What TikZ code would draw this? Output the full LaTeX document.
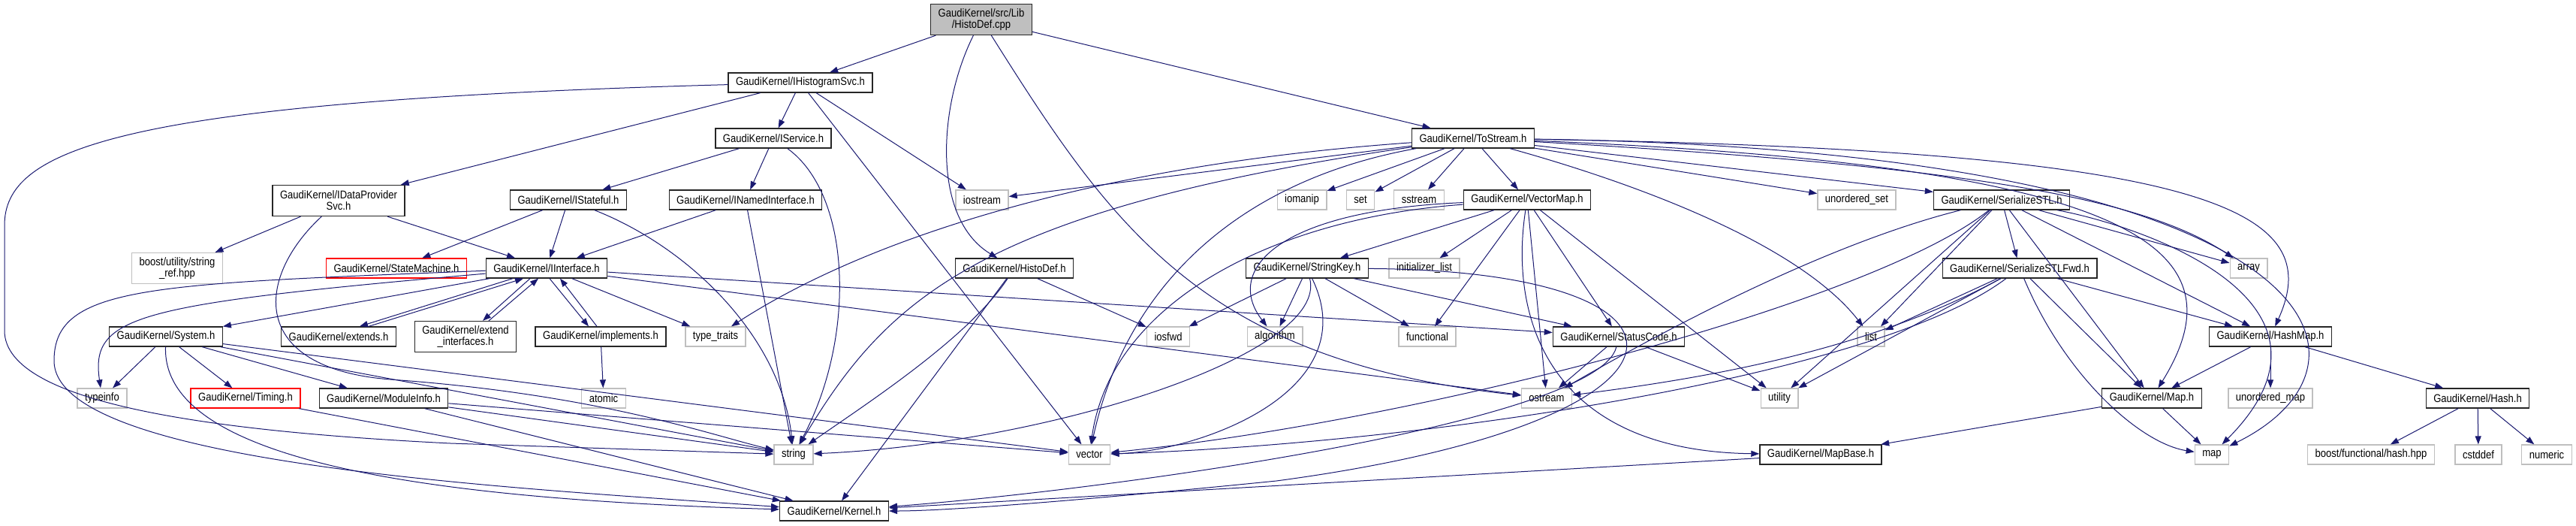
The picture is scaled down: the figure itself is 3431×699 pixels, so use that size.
\documentclass[tikz,border=0pt]{standalone}
\usepackage{fontspec}
\newfontfamily\dgfont{Liberation Sans}[FakeStretch=0.87]
\usepackage{tikz}
\usetikzlibrary{arrows.meta}
\definecolor{dgedge}{RGB}{25,25,112}
\definecolor{dgsys}{RGB}{191,191,191}

\tikzset{
  incl/.style={draw=black!85, fill=white, line width=1.3pt, minimum height=26pt, inner xsep=10pt, inner ysep=1pt, align=center, font={\dgfont\fontsize{15pt}{15pt}\selectfont}},
  sysinc/.style={incl, draw=dgsys},
  trunc/.style={incl, draw=red},
  twoline/.style={minimum height=41pt},
  dep/.style={draw=dgedge, line width=1pt, -{Triangle[length=11pt, width=8pt]}},
}

\begin{document}
\begin{tikzpicture}[x=1pt, y=-1pt]
  \useasboundingbox (0,0) rectangle (3431,699);

  % rows of the include graph
  \node[incl, twoline, fill=dgsys] (root) at (1307,26) {GaudiKernel/src/Lib\\/HistoDef.cpp};
  \node[incl] (ihsvc) at (1066,110) {GaudiKernel/IHistogramSvc.h};
  \node[incl] (isvc) at (1030,184) {GaudiKernel/IService.h};
  \node[incl] (tostream) at (1962,184) {GaudiKernel/ToStream.h};
  \node[incl, twoline] (idps) at (451,267) {GaudiKernel/IDataProvider\\Svc.h};
  \node[incl] (istate) at (757,266) {GaudiKernel/IStateful.h};
  \node[incl] (inamed) at (993,266) {GaudiKernel/INamedInterface.h};
  \node[sysinc] (iostream) at (1308,266) {iostream};
  \node[sysinc] (iomanip) at (1734,266) {iomanip};
  \node[sysinc] (stdset) at (1812,266) {set};
  \node[sysinc] (sstream) at (1890,266) {sstream};
  \node[incl] (vmap) at (2034,266) {GaudiKernel/VectorMap.h};
  \node[sysinc] (uset) at (2473,266) {unordered\_set};
  \node[incl] (sstl) at (2666,266) {GaudiKernel/SerializeSTL.h};
  \node[sysinc, twoline] (bsref) at (236,357) {boost/utility/string\\\_ref.hpp};
  \node[trunc] (smach) at (528,357) {GaudiKernel/StateMachine.h};
  \node[incl] (iif) at (728,357) {GaudiKernel/IInterface.h};
  \node[incl] (hdef) at (1351,357) {GaudiKernel/HistoDef.h};
  \node[incl] (stkey) at (1741,357) {GaudiKernel/StringKey.h};
  \node[sysinc] (initl) at (1897,357) {initializer\_list};
  \node[incl] (sfwd) at (2690,357) {GaudiKernel/SerializeSTLFwd.h};
  \node[sysinc] (array) at (2995,357) {array};
  \node[incl] (sysh) at (221,448) {GaudiKernel/System.h};
  \node[incl] (ext) at (451,448) {GaudiKernel/extends.h};
  \node[incl, twoline] (extif) at (620,448) {GaudiKernel/extend\\\_interfaces.h};
  \node[incl] (impl) at (800,448) {GaudiKernel/implements.h};
  \node[sysinc] (ttraits) at (953,448) {type\_traits};
  \node[sysinc] (iosfwd) at (1556,448) {iosfwd};
  \node[sysinc] (algo) at (1698,448) {algorithm};
  \node[sysinc] (func) at (1901,448) {functional};
  \node[incl] (scode) at (2156,448) {GaudiKernel/StatusCode.h};
  \node[sysinc] (list) at (2492,448) {list};
  \node[incl] (hmap) at (3024,448) {GaudiKernel/HashMap.h};
  \node[sysinc] (tinfo) at (136,530) {typeinfo};
  \node[trunc] (timing) at (327,530) {GaudiKernel/Timing.h};
  \node[incl] (minfo) at (511,530) {GaudiKernel/ModuleInfo.h};
  \node[sysinc] (atomic) at (804,530) {atomic};
  \node[sysinc] (ostream) at (2060,530) {ostream};
  \node[sysinc] (utility) at (2370,530) {utility};
  \node[incl] (maph) at (2866,530) {GaudiKernel/Map.h};
  \node[sysinc] (umap) at (3024,530) {unordered\_map};
  \node[incl] (hash) at (3300,530) {GaudiKernel/Hash.h};
  \node[sysinc] (string) at (1057,605) {string};
  \node[sysinc] (vector) at (1451,605) {vector};
  \node[incl] (mbase) at (2425,605) {GaudiKernel/MapBase.h};
  \node[sysinc] (mapstd) at (2946,605) {map};
  \node[sysinc] (bfh) at (3158,605) {boost/functional/hash.hpp};
  \node[sysinc] (cstddef) at (3301,605) {cstddef};
  \node[sysinc] (numeric) at (3392,605) {numeric};
  \node[incl] (kernel) at (1111,680) {GaudiKernel/Kernel.h};

  % straight includes
  \foreach \src/\dst in {root/ihsvc, root/tostream, ihsvc/idps, ihsvc/isvc, ihsvc/iostream, ihsvc/vector,
      isvc/istate, isvc/inamed, idps/bsref, idps/iif, istate/smach, istate/iif, inamed/iif, inamed/string,
      iif/sysh, iif/ttraits, iif/scode, iif/ostream, impl/atomic,
      sysh/tinfo, sysh/timing, sysh/minfo, sysh/string, sysh/vector, timing/kernel,
      minfo/string, minfo/vector, minfo/kernel, hdef/iosfwd, hdef/kernel,
      tostream/iomanip, tostream/stdset, tostream/sstream, tostream/vmap, tostream/iostream,
      tostream/uset, tostream/sstl, vmap/stkey, vmap/initl, vmap/func, vmap/ostream, vmap/scode, vmap/utility,
      stkey/iosfwd, stkey/algo, stkey/func, stkey/scode, scode/ostream, scode/utility,
      sstl/sfwd, sstl/list, sstl/utility, sstl/maph, sstl/hmap, sstl/array,
      sfwd/list, sfwd/maph, sfwd/hmap, sfwd/utility, hmap/maph, hmap/umap, hmap/hash,
      maph/mapstd, maph/mbase, hash/bfh, hash/cstddef, hash/numeric, mbase/kernel}
    \draw[dep] (\src) -- (\dst);

  % cycles with IInterface.h
  \draw[dep] ([xshift=-45pt]iif.south) -- ([xshift=28pt]ext.north);
  \draw[dep] ([xshift=40pt]ext.north) -- ([xshift=-31pt]iif.south);
  \draw[dep] ([xshift=-22pt]iif.south) -- ([xshift=23pt]extif.north);
  \draw[dep] ([xshift=31pt]extif.north) -- ([xshift=-11pt]iif.south);
  \draw[dep] ([xshift=4pt]iif.south) -- ([xshift=-16pt]impl.north);
  \draw[dep] ([xshift=-5pt]impl.north) -- ([xshift=18pt]iif.south);

  % curved includes
  \draw[dep] (root) .. controls (1250,140) and (1240,290) .. (hdef);
  \draw[dep] (root) .. controls (1480,300) and (1600,480) .. (ostream);
  \draw[dep] (ihsvc) .. controls (150,135) and (6,200) .. (6,300) -- (6,440) .. controls (6,540) and (300,575) .. (600,590) -- (string);
  \draw[dep] (idps) .. controls (340,370) and (330,490) .. (520,505) .. controls (800,525) and (950,580) .. (string);
  \draw[dep] (iif) .. controls (200,378) and (72,380) .. (72,480) .. controls (72,620) and (700,650) .. (kernel);
  \draw[dep] (iif) .. controls (180,405) and (120,420) .. (tinfo);
  \draw[dep] (sysh) .. controls (215,620) and (600,665) .. (kernel);
  \draw[dep] (istate) .. controls (920,330) and (1040,450) .. (string);
  \draw[dep] (isvc) .. controls (1135,260) and (1140,450) .. (string);
  \draw[dep] (hdef) .. controls (1290,450) and (1150,540) .. (string);
  \draw[dep] (tostream) .. controls (1300,280) and (1180,400) .. (string);
  \draw[dep] (tostream) .. controls (1450,220) and (1150,320) .. (ttraits);
  \draw[dep] (tostream) .. controls (1650,240) and (1500,380) .. (vector);
  \draw[dep] (vmap) .. controls (1700,290) and (1480,400) .. (vector);
  \draw[dep] (vmap) .. controls (1700,280) and (1630,360) .. (algo);
  \draw[dep] (vmap) .. controls (2010,420) and (2060,600) .. (mbase);
  \draw[dep] (stkey) .. controls (1770,470) and (1400,590) .. (string);
  \draw[dep] (stkey) .. controls (1820,520) and (1600,600) .. (vector);
  \draw[dep] (stkey) .. controls (2300,360) and (2300,560) .. (1700,640) .. controls (1400,670) and (1250,680) .. (kernel);
  \draw[dep] (scode) .. controls (2130,560) and (1500,650) .. (kernel);
  \draw[dep] (tostream) .. controls (2200,250) and (2400,330) .. (list);
  \draw[dep] (tostream) .. controls (3100,200) and (3200,480) .. (mapstd);
  \draw[dep] (tostream) .. controls (2950,200) and (3100,280) .. (hmap);
  \draw[dep] (tostream) .. controls (2850,220) and (2990,330) .. (maph);
  \draw[dep] (tostream) .. controls (2600,220) and (2850,260) .. (array);
  \draw[dep] (sstl) .. controls (2450,320) and (2250,420) .. (ostream);
  \draw[dep] (sstl) .. controls (2500,400) and (1900,560) .. (vector);
  \draw[dep] (sstl) .. controls (2850,300) and (3150,400) .. (mapstd);
  \draw[dep] (sfwd) .. controls (2500,500) and (1900,590) .. (vector);
  \draw[dep] (sfwd) .. controls (2500,460) and (2300,500) .. (ostream);
  \draw[dep] (sfwd) .. controls (2750,500) and (2850,590) .. (mapstd);
\end{tikzpicture}
\end{document}
